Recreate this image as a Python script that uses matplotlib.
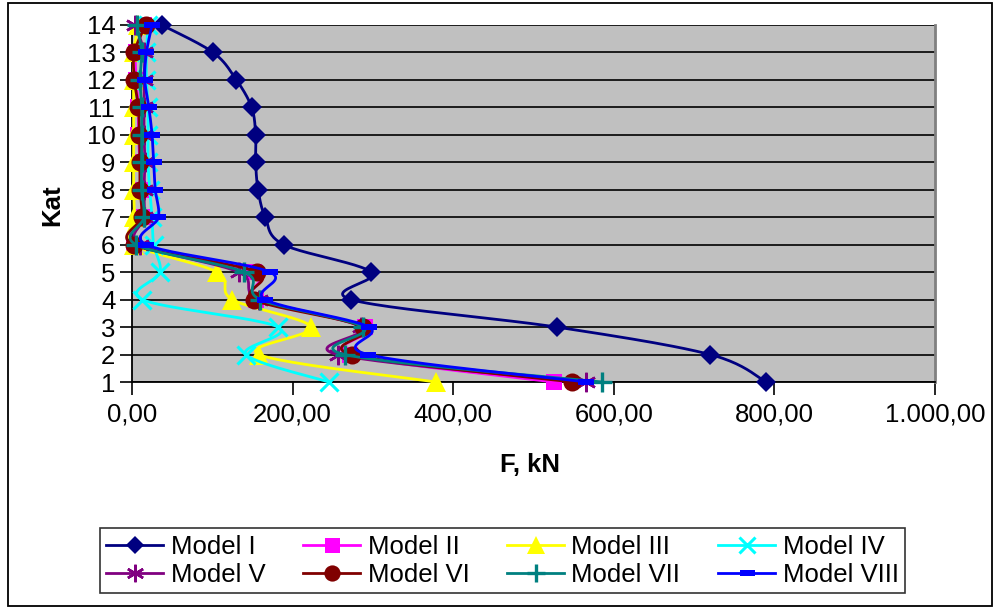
import numpy as np
import matplotlib
matplotlib.use("Agg")
import matplotlib.pyplot as plt
from matplotlib.lines import Line2D
from matplotlib.patches import Rectangle
from matplotlib.ticker import FuncFormatter, MultipleLocator

plt.rcParams['font.family'] = ['Liberation Sans', 'DejaVu Sans']

# Storey numbers (Kat) and storey forces F [kN] for each model, listed from storey 1 upwards
kat = [1, 2, 3, 4, 5, 6, 7, 8, 9, 10, 11, 12, 13, 14]
model_1 = [790, 720, 529, 273, 298, 189, 166, 157, 154, 154, 149, 130, 101, 37]
model_2 = [525, 272, 290, 155, 152, 2, 15, 12, 10, 8, 8, 5, 5, 15]
model_3 = [378, 158, 223, 125, 106, 2, 3, 2, 2, 2, 2, 2, 2, 8]
model_4 = [245, 142, 182, 13, 35, 27, 25, 22, 20, 20, 20, 18, 18, 20]
model_5 = [565, 256, 285, 158, 133, 10, 15, 15, 16, 15, 15, 15, 15, 4]
model_6 = [548, 274, 288, 152, 156, 2, 12, 10, 10, 9, 8, 3, 3, 17]
model_7 = [585, 265, 288, 160, 140, 5, 15, 12, 12, 12, 12, 10, 12, 6]
model_8 = [566, 294, 295, 166, 172, 18, 33, 29, 27, 25, 21, 16, 18, 25]

series_names = ["Model I", "Model II", "Model III", "Model IV",
                "Model V", "Model VI", "Model VII", "Model VIII"]
series_values = [model_1, model_2, model_3, model_4,
                 model_5, model_6, model_7, model_8]

x_ticks = [0, 200, 400, 600, 800, 1000]

colors = ["#000080", "#FF00FF", "#FFFF00", "#00FFFF",
          "#800080", "#800000", "#008080", "#0000FF"]

# wide flat bar used as the "dash" marker
dash_marker = [(-1, -0.35), (1, -0.35), (1, 0.35), (-1, 0.35), (-1, -0.35)]
styles = [
    dict(marker="D", ms=10, mew=0),
    dict(marker="s", ms=12, mew=0),
    dict(marker="^", ms=14, mew=0),
    dict(marker="x", ms=13, mew=2.2),
    dict(marker=(6, 2, 0), ms=14, mew=1.8),
    dict(marker="o", ms=13, mew=0),
    dict(marker="+", ms=15, mew=2.4),
    dict(marker=dash_marker, ms=12, mew=0),
]

W, H = 995, 609
fig = plt.figure(figsize=(W / 100, H / 100), dpi=100)
ax_l, ax_r, ax_t, ax_b = 132, 935, 25, 382
ax = fig.add_axes([ax_l / W, 1 - ax_b / H, (ax_r - ax_l) / W, (ax_b - ax_t) / H])

xmin, xmax, ymin, ymax = 0, 1000, 1, 14
sx = (ax_r - ax_l) / (xmax - xmin)
sy = (ax_b - ax_t) / (ymax - ymin)


def smooth(xs, ys, n=24):
    """Bezier smoothing through the points (tension 1/6), done in screen-like units."""
    px = np.asarray(xs, float) * sx
    py = np.asarray(ys, float) * sy
    pts = np.column_stack([px, py])
    m = len(pts)
    out = [pts[0]]
    t = np.linspace(0, 1, n)[1:, None]
    for i in range(m - 1):
        p0 = pts[i - 1] if i > 0 else pts[i]
        p1 = pts[i]
        p2 = pts[i + 1]
        p3 = pts[i + 2] if i + 2 < m else pts[i + 1]
        c1 = p1 + (p2 - p0) / 6.0
        c2 = p2 - (p3 - p1) / 6.0
        seg = ((1 - t) ** 3) * p1 + 3 * ((1 - t) ** 2) * t * c1 + 3 * (1 - t) * t ** 2 * c2 + t ** 3 * p2
        out.extend(seg)
    out = np.array(out)
    return out[:, 0] / sx, out[:, 1] / sy


ax.set_facecolor("#C0C0C0")
handles = []
for i, (name, vals) in enumerate(zip(series_names, series_values)):
    c = colors[i]
    st = styles[i]
    lx, ly = smooth(vals, kat)
    ax.plot(lx, ly, color=c, lw=2.0, zorder=3 + i * 0.1, clip_on=False,
            solid_joinstyle="round")
    ax.plot(vals, kat, linestyle="none", marker=st["marker"], ms=st["ms"],
            mew=st["mew"], color=c, mfc=c, mec=c, zorder=3.05 + i * 0.1, clip_on=False)
    handles.append(Line2D([], [], color=c, lw=2.0, marker=st["marker"],
                          ms=st["ms"] * 0.9, mew=st["mew"], mfc=c, mec=c, label=name))

ax.set_xlim(xmin, xmax)
ax.set_ylim(ymin, ymax)
ax.set_xticks(x_ticks)
ax.set_yticks(kat)
ax.yaxis.set_major_formatter(FuncFormatter(lambda v, p: f"{int(round(v))}"))


def euro(v, p):
    s = f"{v:,.2f}"
    return s.replace(",", "X").replace(".", ",").replace("X", ".")


ax.xaxis.set_major_formatter(FuncFormatter(euro))
ax.grid(axis="y", color="#000000", lw=1.2, zorder=1)
ax.set_axisbelow(True)
ax.tick_params(axis="both", direction="out", length=9, width=1.2, color="#000000",
               labelsize=18.5)
ax.tick_params(axis="y", pad=3)
ax.tick_params(axis="x", pad=6)
for s in ["left", "bottom"]:
    ax.spines[s].set_color("#000000")
    ax.spines[s].set_linewidth(1.3)
ax.spines["right"].set_color("#808080")
ax.spines["right"].set_linewidth(2)
ax.spines["top"].set_visible(False)

fig.text(530 / W, 1 - 465 / H, "F, kN", ha="center", va="center",
         fontsize=18.5, fontweight="bold")
fig.text(52 / W, 1 - 205 / H, "Kat", ha="center", va="center",
         rotation=90, fontsize=18.5, fontweight="bold")

# legend laid out row by row: I..IV on top, V..VIII below
order = [0, 4, 1, 5, 2, 6, 3, 7]
leg = fig.legend([handles[k] for k in order], [series_names[k] for k in order],
                 ncol=4, loc="lower left",
                 bbox_to_anchor=(100 / W, 1 - 593 / H, (905 - 100) / W, (593 - 513) / H),
                 mode="expand", fontsize=18.5, frameon=True, fancybox=False,
                 handlelength=2.2, handletextpad=0.3, columnspacing=0.8,
                 labelspacing=0.15, borderpad=0.25, borderaxespad=0)
leg.get_frame().set_edgecolor("#000000")
leg.get_frame().set_linewidth(1.2)

fig.patches.append(Rectangle((8 / W, 1 - 606 / H), (992 - 8) / W, (606 - 3) / H,
                             transform=fig.transFigure, fill=False,
                             edgecolor="#000000", lw=1.3))

fig.savefig("out.png", dpi=100)
